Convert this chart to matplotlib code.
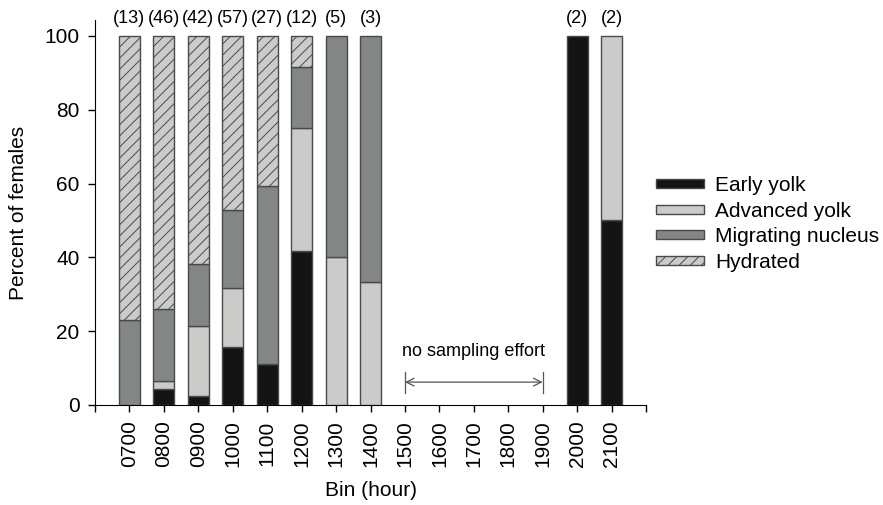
import matplotlib as mpl
import matplotlib.pyplot as plt
import numpy as np
from matplotlib.patches import Patch

mpl.use("Agg")

mpl.rcParams.update({
    "font.family": ["Liberation Sans", "DejaVu Sans"],
    "font.size": 15,
    "hatch.linewidth": 0.7,
    "hatch.color": "#222222",
})

# ─── Data (percent of females per stage, by hourly bin) ─────────────────────
bins = ["0700", "0800", "0900", "1000", "1100", "1200", "1300",
        "1400", "1500", "1600", "1700", "1800", "1900", "2000", "2100"]
counts = ["(13)", "(46)", "(42)", "(57)", "(27)", "(12)", "(5)", "(3)",
          "", "", "", "", "", "(2)", "(2)"]
early_yolk = [0.0, 4.3, 2.4, 15.8, 11.1, 41.7, 0.0, 0.0,
              0, 0, 0, 0, 0, 100.0, 50.0]
advanced_yolk = [0.0, 2.2, 19.0, 15.8, 0.0, 33.3, 40.0, 33.3,
                 0, 0, 0, 0, 0, 0.0, 50.0]
migrating_nucleus = [23.1, 19.6, 16.7, 21.1, 48.1, 16.7, 60.0, 66.7,
                     0, 0, 0, 0, 0, 0.0, 0.0]
hydrated = [76.9, 73.9, 61.9, 47.4, 40.7, 8.3, 0.0, 0.0,
            0, 0, 0, 0, 0, 0.0, 0.0]

# ─── Colours ────────────────────────────────────────────────────────────────
COL_EARLY = "#141414"
COL_ADV = "#cbcbc9"
COL_MIG = "#828685"
COL_HYD = "#cbcbc9"
EDGE = "#4a4a4a"

fig = plt.figure(figsize=(8.83, 5.05), dpi=100)
ax = fig.add_axes([95 / 883, 1 - 405 / 505, (646 - 95) / 883, (405 - 20) / 505])

x = np.arange(len(bins))
w = 0.61
stack = [
    (early_yolk, COL_EARLY, None),
    (advanced_yolk, COL_ADV, None),
    (migrating_nucleus, COL_MIG, None),
    (hydrated, COL_HYD, "///"),
]
bottom = np.zeros(len(bins))
for vals, col, hatch in stack:
    vals = np.array(vals, dtype=float)
    mask = vals > 0
    ax.bar(x[mask], vals[mask], width=w, bottom=bottom[mask], color=col,
           edgecolor=EDGE, linewidth=1.0, hatch=hatch, zorder=3)
    bottom += vals

# sample sizes above bars
for xi, c in zip(x, counts):
    if c:
        ax.text(xi, 104.6, c, ha="center", va="center", fontsize=13,
                clip_on=False)

# no sampling effort annotation
ax.annotate("", xy=(8, 6.2), xytext=(12, 6.2),
            arrowprops=dict(arrowstyle="<->", color="#555555", lw=0.9,
                            shrinkA=0, shrinkB=0, mutation_scale=14))
for xe in (8, 12):
    ax.plot([xe, xe], [3.3, 9.0], color="#555555", lw=0.9)
ax.text(10, 14.4, "no sampling effort", ha="center", va="center", fontsize=13)

# axes
ax.set_xlim(-1, 15)
ax.set_ylim(0, 104.3)
ax.set_xticks(list(range(-1, 16)))
ax.set_xticklabels([""] + bins + [""], rotation=90)
ax.set_yticks([0, 20, 40, 60, 80, 100])
ax.tick_params(direction="out", length=5, width=1, labelsize=15, pad=6)
ax.spines["top"].set_visible(False)
ax.spines["right"].set_visible(False)
ax.set_ylabel("Percent of females", fontsize=15, labelpad=12)
ax.set_xlabel("Bin (hour)", fontsize=15, labelpad=10)

handles = [
    Patch(facecolor=COL_EARLY, edgecolor=EDGE, label="Early yolk"),
    Patch(facecolor=COL_ADV, edgecolor=EDGE, label="Advanced yolk"),
    Patch(facecolor=COL_MIG, edgecolor=EDGE, label="Migrating nucleus"),
    Patch(facecolor=COL_HYD, edgecolor=EDGE, hatch="///", label="Hydrated"),
]
fig.legend(handles=handles, loc="center left",
           bbox_to_anchor=(637 / 883, 1 - 224 / 505),
           frameon=False, fontsize=15, handlelength=2.3, handleheight=0.3,
           handletextpad=0.55, labelspacing=0.32)

fig.savefig("out.png", dpi=100)
